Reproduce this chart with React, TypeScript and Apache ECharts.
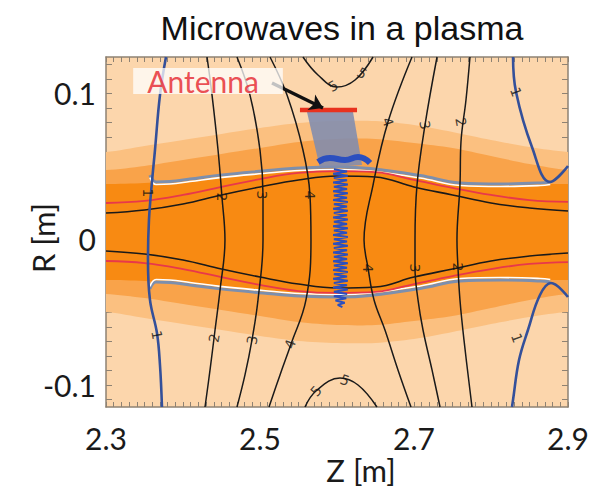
import React, { useEffect, useRef } from "react";
import * as echarts from "echarts";

const titleText = "Microwaves in a plasma";
const xName = "Z [m]";
const yName = "R [m]";

const zMin = 2.3;
const zMax = 2.9;
const rMin = -0.115;
const rMax = 0.125;
const xTickLabels = [2.3, 2.5, 2.7, 2.9];
const yTickLabels = [-0.1, 0, 0.1];

// plasma density bands (symmetric about bandCenterR)
const bandZ = [2.3, 2.35, 2.4, 2.45, 2.5, 2.55, 2.6, 2.65, 2.7, 2.75, 2.8, 2.85, 2.9];
const bandCenterR = 0.005;
const lightHalfWidth = [0.0549, 0.059, 0.0631, 0.0672, 0.0713, 0.0747, 0.0761, 0.0761, 0.0734, 0.0686, 0.0631, 0.0583, 0.0549];
const mediumHalfWidth = [0.0425, 0.0453, 0.0494, 0.0535, 0.0576, 0.0617, 0.0638, 0.0638, 0.061, 0.0576, 0.0521, 0.0466, 0.0425];
const coreHalfWidth = [0.0329, 0.0336, 0.0357, 0.0391, 0.0418, 0.0439, 0.0446, 0.0439, 0.0391, 0.0336, 0.0329, 0.0329, 0.0329];
const redHalfWidth = [0.0199, 0.0213, 0.0254, 0.0309, 0.0363, 0.0405, 0.0418, 0.0411, 0.0357, 0.0302, 0.0254, 0.0219, 0.0206];
const blackHalfWidth = [0.013, 0.0151, 0.0192, 0.0254, 0.0309, 0.0357, 0.0384, 0.0377, 0.0309, 0.0254, 0.0199, 0.0165, 0.0144];

// cutoff layer edge (grey / white line)
const edgeZ = [2.357, 2.365, 2.383, 2.409, 2.448, 2.504, 2.552, 2.604, 2.643, 2.708, 2.76, 2.812, 2.864, 2.877];
const edgeHalfWidth = [0.039, 0.0343, 0.0346, 0.0363, 0.039, 0.0418, 0.0439, 0.0446, 0.0435, 0.0387, 0.0336, 0.0329, 0.0336, 0.0343];

// contours (Z, R)
const c1LeftZ = [2.3779, 2.3701, 2.3636, 2.3597, 2.3558, 2.3545, 2.3571, 2.3662, 2.3701, 2.3727];
const c1LeftR = [0.125, 0.0989, 0.0612, 0.0393, 0.0132, -0.0142, -0.0416, -0.0643, -0.0862, -0.115];
const c1RightTopZ = [2.8286, 2.8325, 2.8532, 2.8766, 2.9];
const c1RightTopR = [0.125, 0.101, 0.0633, 0.0393, 0.0503];
const c1RightBottomZ = [2.9, 2.8779, 2.8636, 2.848, 2.8364, 2.8286, 2.8273];
const c1RightBottomR = [-0.0396, -0.03, -0.0382, -0.0622, -0.0828, -0.1102, -0.115];

const c2LeftZ = [2.4312, 2.4377, 2.4455, 2.4506, 2.4545, 2.4481, 2.4416, 2.4351, 2.4286];
const c2LeftR = [0.125, 0.0989, 0.0612, 0.029, -0.0005, -0.0348, -0.0622, -0.0896, -0.115];
const c3LeftZ = [2.4701, 2.487, 2.5, 2.5039, 2.5039, 2.4974, 2.4896, 2.4805, 2.4701];
const c3LeftR = [0.125, 0.0989, 0.0612, 0.0304, -0.0005, -0.0416, -0.069, -0.093, -0.115];
const c4LeftZ = [2.513, 2.5351, 2.5558, 2.5649, 2.5662, 2.5597, 2.5403, 2.526, 2.5117];
const c4LeftR = [0.125, 0.0989, 0.0612, 0.0304, -0.0005, -0.0416, -0.0718, -0.093, -0.115];
const c4RightZ = [2.6974, 2.6662, 2.6468, 2.6351, 2.6403, 2.6481, 2.6623, 2.6792, 2.6961];
const c4RightR = [0.125, 0.0804, 0.0372, -0.0005, -0.0197, -0.0416, -0.0622, -0.0896, -0.115];
const c3RightZ = [2.7299, 2.7143, 2.7039, 2.7013, 2.7013, 2.7052, 2.7117, 2.7234, 2.7338];
const c3RightR = [0.125, 0.0784, 0.0372, -0.0005, -0.0197, -0.0416, -0.0622, -0.0896, -0.115];
const c2RightZ = [2.7727, 2.7675, 2.761, 2.7597, 2.7558, 2.7571, 2.7597, 2.7649, 2.7753];
const c2RightR = [0.125, 0.0955, 0.0667, 0.0372, -0.0005, -0.019, -0.0416, -0.069, -0.115];
const c5TopZ = [2.5558, 2.5753, 2.6, 2.6234, 2.6468];
const c5TopR = [0.125, 0.1127, 0.1044, 0.1092, 0.125];
const c5BottomZ = [2.5584, 2.5727, 2.6039, 2.6273, 2.6519];
const c5BottomR = [-0.115, -0.104, -0.0951, -0.0999, -0.115];

// contour level labels
const labelText = ["1", "2", "3", "4", "4", "3", "2", "5", "5", "4", "3", "2", "1", "1", "2", "3", "4", "5", "5", "1"];
const labelZ = [2.3545, 2.4506, 2.5026, 2.5649, 2.6403, 2.7013, 2.7571, 2.5948, 2.6325, 2.6662, 2.7143, 2.761, 2.8325, 2.3662, 2.4403, 2.4896, 2.539, 2.5727, 2.6104, 2.8338];
const labelR = [0.0317, 0.029, 0.0304, 0.0304, -0.0197, -0.0197, -0.019, 0.1051, 0.114, 0.0804, 0.0784, 0.0804, 0.101, -0.0656, -0.0677, -0.0691, -0.0718, -0.104, -0.0965, -0.0677];
const labelRotate = [-90, -90, -90, -90, -90, -90, -90, 30, -30, -70, -80, -80, -70, -80, 80, 80, 70, 50, -20, -70];

// antenna and microwave beam
const antennaZ = [2.5519, 2.626];
const antennaR = [0.0887, 0.0887];
const arrowZ = [2.5156, 2.5818];
const arrowR = [0.1072, 0.09];
const beamZ = [2.561, 2.6208, 2.6325, 2.5779];
const beamR = [0.0873, 0.0873, 0.0509, 0.0489];
const blobZ = [2.5753, 2.5909, 2.6104, 2.6273, 2.6429];
const blobR = [0.053, 0.0557, 0.0544, 0.0564, 0.0523];
const waveZ = [2.596, 2.613, 2.595, 2.614, 2.596, 2.613, 2.595, 2.614, 2.596, 2.613, 2.595, 2.614, 2.596, 2.613, 2.595, 2.614, 2.596, 2.613, 2.595, 2.614, 2.596, 2.613, 2.595, 2.614, 2.596, 2.613, 2.595, 2.614, 2.596, 2.613, 2.595, 2.614, 2.596, 2.613, 2.595, 2.614, 2.596, 2.613, 2.595, 2.614, 2.596, 2.613, 2.595, 2.614, 2.596, 2.613, 2.595, 2.614, 2.596, 2.613, 2.595, 2.614, 2.596, 2.613, 2.595, 2.614, 2.596, 2.613, 2.596, 2.612, 2.598, 2.61, 2.601, 2.607];
const waveR = [0.048, 0.0465, 0.045, 0.0435, 0.042, 0.0405, 0.039, 0.0375, 0.036, 0.0345, 0.033, 0.0315, 0.03, 0.0285, 0.027, 0.0255, 0.024, 0.0225, 0.021, 0.0195, 0.018, 0.0165, 0.015, 0.0135, 0.012, 0.0105, 0.009, 0.0075, 0.006, 0.0045, 0.003, 0.0015, 0.0, -0.0015, -0.003, -0.0045, -0.006, -0.0075, -0.009, -0.0105, -0.012, -0.0135, -0.015, -0.0165, -0.018, -0.0195, -0.021, -0.0225, -0.024, -0.0255, -0.027, -0.0285, -0.03, -0.0315, -0.033, -0.0345, -0.036, -0.0375, -0.039, -0.0405, -0.042, -0.0435, -0.045, -0.0465];
const antennaLabelZ = 2.4325;
const antennaLabelR = 0.1085;

const FONT = "Lato";

function pairs(zs: number[], rs: number[]) {
  return zs.map((z, i) => [z, rs[i]]);
}

function line(data: number[][], color: string, width: number, z = 3, smooth: number | boolean = 0.4) {
  return {
    type: "line",
    data,
    smooth,
    symbol: "none",
    showSymbol: false,
    silent: true,
    z,
    lineStyle: { color, width },
  };
}

function bandLines(zs: number[], hw: number[], color: string, width: number, z: number, offset = 0) {
  return [
    line(zs.map((zz, i) => [zz, bandCenterR + hw[i] - offset]), color, width, z),
    line(zs.map((zz, i) => [zz, bandCenterR - hw[i] + offset]), color, width, z),
  ];
}

export default function App() {
  const ref = useRef<HTMLDivElement>(null);
  useEffect(() => {
    if (!ref.current) return;
    const chart = echarts.init(ref.current, undefined, { renderer: "svg" });

    const bands = [
      { hw: lightHalfWidth, color: "#FBC080" },
      { hw: mediumHalfWidth, color: "#F9A34A" },
      { hw: coreHalfWidth, color: "#F88A12" },
    ];

    const xTicks: number[] = [];
    for (let i = 0; i <= 60; i++) xTicks.push(+(zMin + i * 0.01).toFixed(2));
    const yTicks: number[] = [];
    for (let i = -11; i <= 12; i++) yTicks.push(+(i * 0.01).toFixed(2));

    const frame = "#8E8273";
    const axisCommon = {
      type: "value",
      axisLine: { show: true, onZero: false, lineStyle: { color: frame, width: 1.5 } },
      splitLine: { show: false },
    };
    const hidden = { color: "rgba(0,0,0,0)" };

    const option: any = {
      animation: false,
      backgroundColor: "#ffffff",
      grid: {
        left: 106, top: 57, right: 42, bottom: 83,
        outerBoundsMode: "none", containLabel: false,
        show: true, backgroundColor: "#FCD6AC", borderWidth: 0,
      },
      graphic: [
        {
          type: "text",
          x: 342,
          y: 28,
          style: { text: titleText, font: '34px "Liberation Sans"', fill: "#111", textAlign: "center", textVerticalAlign: "middle" },
        },
        {
          type: "text",
          x: 361,
          y: 470,
          style: { text: xName, font: `31px ${FONT}`, fill: "#1a1a1a", textAlign: "center", textVerticalAlign: "middle" },
        },
        {
          type: "text",
          x: 43,
          y: 238,
          rotation: Math.PI / 2,
          style: { text: yName, font: `31px ${FONT}`, fill: "#1a1a1a", textAlign: "center", textVerticalAlign: "middle" },
        },
      ],
      xAxis: [
        {
          ...axisCommon,
          min: zMin,
          max: zMax,
          position: "bottom",
          axisTick: { show: true, inside: true, length: 5, customValues: xTicks, lineStyle: { color: frame } },
          axisLabel: { customValues: xTickLabels, margin: 16, fontFamily: FONT, fontSize: 30, color: "#1a1a1a", formatter: (v: number) => v.toFixed(1) },
        },
        {
          ...axisCommon,
          min: zMin,
          max: zMax,
          position: "top",
          axisTick: { show: true, inside: true, length: 5, customValues: xTicks, lineStyle: { color: frame } },
          axisLabel: { show: false },
        },
      ],
      yAxis: [
        {
          ...axisCommon,
          min: rMin,
          max: rMax,
          position: "left",
          axisTick: { show: true, inside: true, length: 6, customValues: yTicks, lineStyle: { color: frame } },
          axisLabel: { customValues: yTickLabels, margin: 10, fontFamily: FONT, fontSize: 30, color: "#1a1a1a", formatter: (v: number) => (Math.abs(v) < 1e-9 ? "0" : v.toFixed(1)) },
        },
        {
          ...axisCommon,
          min: rMin,
          max: rMax,
          position: "right",
          axisTick: { show: true, inside: true, length: 6, customValues: yTicks, lineStyle: { color: frame } },
          axisLabel: { show: false },
        },
      ],
      series: [
        {
          type: "custom",
          clip: true,
          silent: true,
          z: 1,
          data: bands.map(() => [zMin, 0]),
          renderItem: (params: any, api: any) => {
            const b = bands[params.dataIndex];
            const n = bandZ.length;
            const up = bandZ.map((zz, i) => [zz, bandCenterR + b.hw[i]]);
            const lo = bandZ.map((zz, i) => [zz, bandCenterR - b.hw[i]]).reverse();
            const pts = [
              [zMin - 0.05, up[0][1]],
              ...up,
              [zMax + 0.05, up[n - 1][1]],
              [zMax + 0.05, lo[0][1]],
              ...lo,
              [zMin - 0.05, lo[n - 1][1]],
            ].map((p) => api.coord(p));
            return { type: "polygon", shape: { points: pts, smooth: 0.3 }, style: { fill: b.color } };
          },
        },
        // layer boundaries
        ...bandLines(edgeZ, edgeHalfWidth, "#7D8FAD", 3, 2),
        ...bandLines(edgeZ, edgeHalfWidth, "#FFFFFF", 1.6, 2, 0.0017),
        ...bandLines(bandZ, redHalfWidth, "#E8384A", 1.8, 2),
        ...bandLines(bandZ, blackHalfWidth, "#1A1A1A", 1.6, 3),
        // contours
        line(pairs(c2LeftZ, c2LeftR), "#1A1A1A", 1.5),
        line(pairs(c3LeftZ, c3LeftR), "#1A1A1A", 1.5),
        line(pairs(c4LeftZ, c4LeftR), "#1A1A1A", 1.5),
        line(pairs(c4RightZ, c4RightR), "#1A1A1A", 1.5),
        line(pairs(c3RightZ, c3RightR), "#1A1A1A", 1.5),
        line(pairs(c2RightZ, c2RightR), "#1A1A1A", 1.5),
        line(pairs(c5TopZ, c5TopR), "#1A1A1A", 1.5),
        line(pairs(c5BottomZ, c5BottomR), "#1A1A1A", 1.5),
        line(pairs(c1LeftZ, c1LeftR), "#34509A", 2.6),
        line(pairs(c1RightTopZ, c1RightTopR), "#34509A", 2.6),
        line(pairs(c1RightBottomZ, c1RightBottomR), "#34509A", 2.6),
        // microwave beam
        {
          type: "custom",
          clip: true,
          silent: true,
          z: 5,
          data: [[beamZ[0], beamR[0]]],
          renderItem: (_p: any, api: any) => ({
            type: "polygon",
            shape: { points: beamZ.map((zz, i) => api.coord([zz, beamR[i]])) },
            style: { fill: "rgba(128,140,175,0.88)" },
          }),
        },
        line(pairs(waveZ, waveR), "#2B4FBF", 2, 5, false),
        line(pairs(blobZ, blobR), "#2B4FBF", 6, 5, 0.5),
        line(pairs(antennaZ, antennaR), "#E8321E", 4.5, 6, false),
        {
          type: "lines",
          coordinateSystem: "cartesian2d",
          silent: true,
          z: 7,
          symbol: ["none", "arrow"],
          symbolSize: 13,
          lineStyle: { color: "#111", width: 3.5, opacity: 1 },
          data: [{ coords: pairs(arrowZ, arrowR) }],
        },
        {
          type: "scatter",
          silent: true,
          z: 7,
          symbolSize: 1,
          itemStyle: hidden,
          label: { show: true },
          data: [
            {
              value: [antennaLabelZ, antennaLabelR],
              label: {
                show: true,
                position: "inside",
                formatter: "Antenna",
                fontFamily: FONT,
                fontSize: 30,
                lineHeight: 26,
                color: "#E5232C",
                backgroundColor: "rgba(255,255,255,0.93)",
                padding: [0, 24, 0, 14],
              },
            },
          ],
        },
        {
          type: "scatter",
          silent: true,
          z: 8,
          symbolSize: 1,
          itemStyle: hidden,
          label: { show: true },
          data: labelText.map((t, i) => ({
            value: [labelZ[i], labelR[i]],
            label: {
              show: true,
              position: "inside",
              formatter: t,
              rotate: labelRotate[i],
              fontFamily: "DejaVu Sans",
              fontSize: 14,
              color: "#111",
            },
          })),
        },
      ],
    };
    chart.setOption(option);
    return () => chart.dispose();
  }, []);
  return <div ref={ref} style={{ position: "absolute", left: 0, top: 0, width: 610, height: 490 }} />;
}
